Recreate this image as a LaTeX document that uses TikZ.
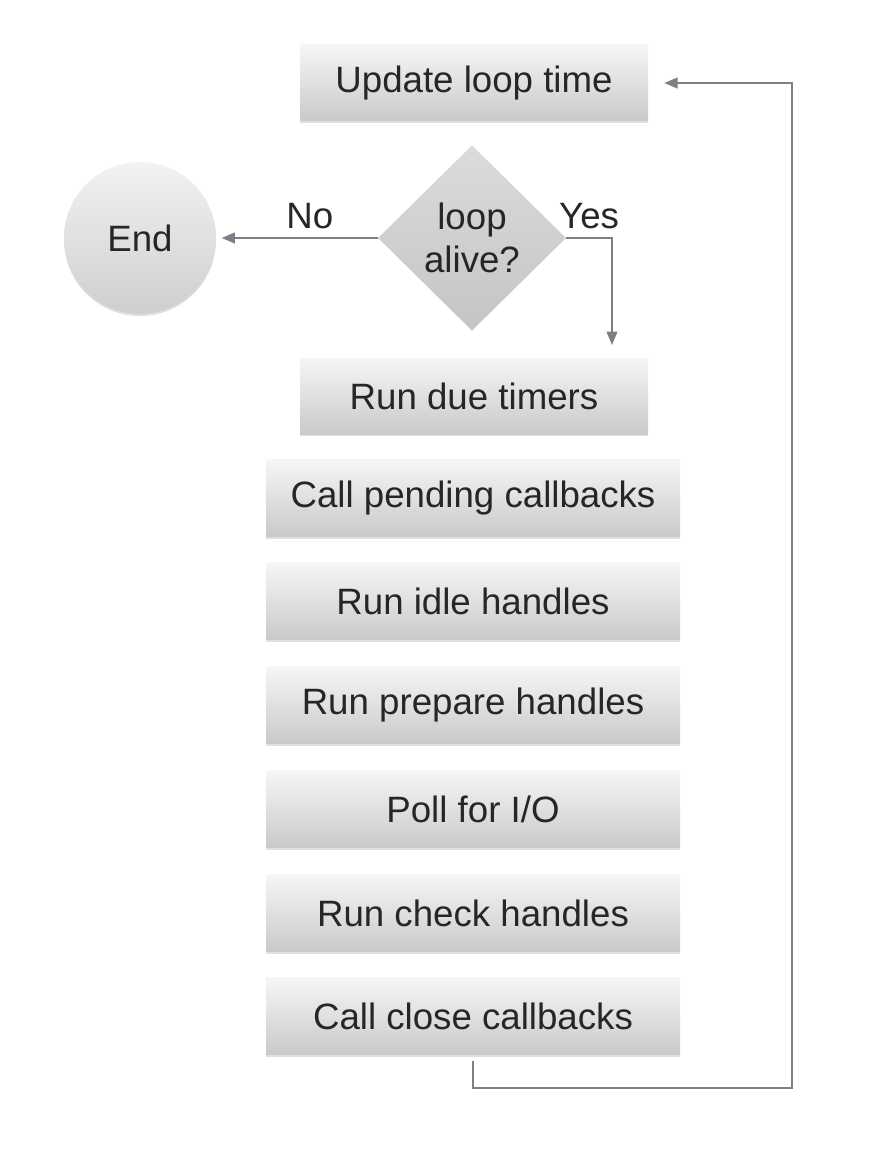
\documentclass[tikz,border=0pt]{standalone}
\usepackage{fontspec}
\setmainfont{Liberation Sans}
\usetikzlibrary{shapes.geometric,arrows.meta,shadows}
\definecolor{linegray}{HTML}{7E7F86}
\definecolor{textgray}{HTML}{262626}
\tikzset{
	box/.style={rectangle, minimum width=261pt, minimum height=57pt, top color=gray!7, bottom color=gray!42, text=textgray, drop shadow={opacity=0.25, shadow xshift=0pt, shadow yshift=-1.5pt}},
	widebox/.style={box, minimum width=310.5pt, minimum height=57.75pt},
	decision/.style={diamond, aspect=1, inner sep=0pt, minimum width=141pt, minimum height=139pt, top color=gray!28, bottom color=gray!46, text=textgray, align=center},
	endcircle/.style={circle, minimum size=114pt, inner sep=0pt, top color=gray!10, bottom color=gray!38, text=textgray, drop shadow={opacity=0.25, shadow xshift=0pt, shadow yshift=-1.5pt}},
	flow/.style={draw=linegray, line width=1.5pt, -{Triangle[length=10pt,width=8pt]}},
	lbl/.style={text=textgray}
}
\begin{document}
\begin{tikzpicture}[x=0.75pt,y=-0.75pt,font=\fontsize{27.5}{32}\selectfont]
		\useasboundingbox (0,0) rectangle (888,1170);
		\node[box] (update) at (474,83) {Update loop time};
		\node[decision] (alive) at (472,238) {loop\\alive?};
		\node[endcircle] (end) at (140,238) {End};
		\node[box] (timers) at (474,396) {Run due timers};
		\node[widebox] (pending) at (473,498) {Call pending callbacks};
		\node[widebox] (idle) at (473,601) {Run idle handles};
		\node[widebox] (prepare) at (473,705) {Run prepare handles};
		\node[widebox] (poll) at (473,809) {Poll for I/O};
		\node[widebox] (check) at (473,913) {Run check handles};
		\node[widebox] (close) at (473,1016) {Call close callbacks};
		\coordinate (yesend) at (612,345);
		\coordinate (back) at (792,1088);
		\draw[flow, shorten >=4pt] (alive.west) -- node[lbl, pos=0.42, above=3pt] {No} (end.east);
		\draw[flow] (alive.east) -| node[lbl, pos=0.25, above=3pt] {Yes} (yesend);
		\draw[flow, shorten <=5pt, shorten >=12pt] (close.south) |- (back) |- (update.east);
		\end{tikzpicture}
\end{document}
